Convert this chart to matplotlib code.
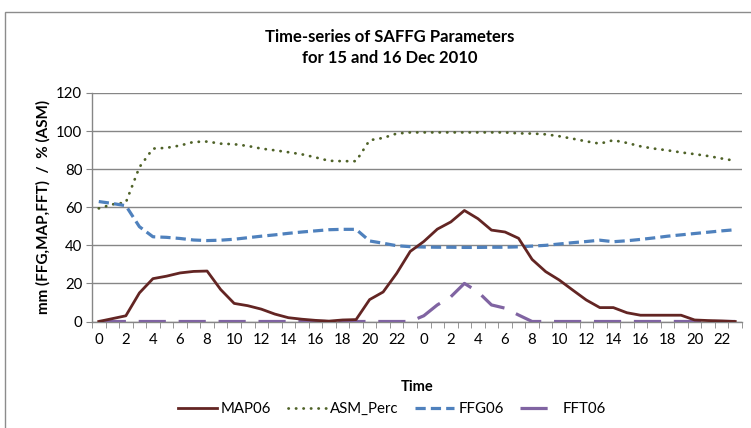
import numpy as np
import matplotlib
matplotlib.use('Agg')
import matplotlib.pyplot as plt
from matplotlib.patches import Rectangle

plt.rcParams['font.family'] = ['Lato', 'DejaVu Sans']

# hourly values, 15 Dec 00h .. 16 Dec 23h
hours = list(range(24)) + list(range(24))

map06 = [0, 1.5, 3, 15, 22.5, 23.8, 25.5, 26.3, 26.5, 16.8, 9.5, 8.3, 6.5, 3.9, 2, 1.2,
         0.6, 0.2, 0.8, 1, 11.5, 15.5, 25.3, 36.8, 42, 48.5, 52.3, 58.3, 54, 48, 47, 43.7,
         32.6, 26.2, 21.8, 16.5, 11.3, 7.3, 7.3, 4.6, 3.3, 3.3, 3.3, 3.3, 0.8, 0.5, 0.3, 0]
asm_perc = [59.4, 61.5, 62.5, 81, 90.8, 91.2, 92.4, 94.3, 94.5, 93.4, 93.1, 92.2, 90.8,
            89.9, 88.9, 87.8, 86.2, 84.4, 84.2, 84.2, 95.2, 96.4, 98.7, 99.3, 99.3, 99.3,
            99.3, 99.3, 99.3, 99.3, 99.3, 98.8, 98.7, 98.3, 97.3, 96, 94.6, 93.4, 95.2, 93.8,
            92, 90.8, 89.9, 88.8, 87.9, 86.9, 85.6, 84.4]
ffg06 = [63, 62, 60.8, 49.8, 44.5, 44.2, 43.6, 42.8, 42.5, 42.7, 43.2, 44, 44.8, 45.5,
         46.3, 47, 47.6, 48.2, 48.4, 48.4, 42.3, 41.1, 39.8, 39.3, 39.1, 39, 39, 38.9, 38.9,
         39, 39, 39.2, 39.6, 40, 40.7, 41.4, 42, 42.7, 41.9, 42.4, 43.1, 43.9, 44.8, 45.5,
         46.2, 46.9, 47.6, 48.2]
fft06 = [0] * 23 + [0, 3, 8.7, 13, 20, 15.6, 8.7, 7, 3.4, 0] + [0] * 15

x = np.arange(len(hours))

fig = plt.figure(figsize=(7.51, 4.28), dpi=100)
ax = fig.add_axes([92 / 751, 1 - 321.5 / 428, (742 - 92) / 751, (321.5 - 93) / 428])

# chart frame
fig.patches.append(Rectangle((5 / 751, -0.2), 1.2, 0.2 + (1 - 12 / 428), transform=fig.transFigure,
                             fill=False, edgecolor='#8c8c8c', linewidth=1.0))

ax.plot(x, map06, color='#632523', linewidth=2.0, label='MAP06', zorder=4)
ax.plot(x, asm_perc, color='#4f6228', linewidth=2.0, linestyle=(0, (0.1, 2.6)),
        dash_capstyle='round', label='ASM_Perc', zorder=3)
ax.plot(x, ffg06, color='#4f81bd', linewidth=2.3, linestyle=(0, (3.2, 1.6)),
        label='FFG06', zorder=3)
ax.plot(x, fft06, color='#8064a2', linewidth=2.3, linestyle=(0, (8.5, 4)),
        label='FFT06', zorder=3)

ax.set_ylim(0, 120)
ax.set_yticks(range(0, 121, 20))
ax.set_xlim(-0.5, len(hours) - 0.5)
ax.set_xticks(x[::2])
ax.set_xticklabels([str(h) for h in hours[::2]])
ax.set_xticks(np.arange(-0.5, len(hours)), minor=True)

ax.grid(axis='y', color='#868686', linewidth=1.0)
ax.set_axisbelow(True)
for s in ['top', 'right']:
    ax.spines[s].set_visible(False)
for s in ['left', 'bottom']:
    ax.spines[s].set_color('#868686')
    ax.spines[s].set_linewidth(1.0)

ax.tick_params(axis='y', length=4, color='#868686', labelsize=10.8, pad=3)
ax.tick_params(axis='x', which='major', length=0, labelsize=10.8, pad=8)
ax.tick_params(axis='x', which='minor', length=4, color='#868686')

ax.set_ylabel('mm (FFG,MAP,FFT)  /  % (ASM)', fontsize=11, fontweight='bold', labelpad=4)
ax.set_xlabel('Time', fontsize=10.5, fontweight='bold', labelpad=24)

fig.text(390 / 751, 1 - 37 / 428, 'Time-series of SAFFG Parameters', ha='center', va='center',
         fontsize=12, fontweight='bold')
fig.text(390 / 751, 1 - 58 / 428, 'for 15 and 16 Dec 2010', ha='center', va='center',
         fontsize=12, fontweight='bold')

ax.legend(loc='center', bbox_to_anchor=(392 / 751, 1 - 409 / 428), bbox_transform=fig.transFigure,
          ncol=4, frameon=False, fontsize=10.8, handlelength=2.6, handletextpad=0.25,
          columnspacing=1.1, borderpad=0)

fig.savefig('out.png', dpi=100)
